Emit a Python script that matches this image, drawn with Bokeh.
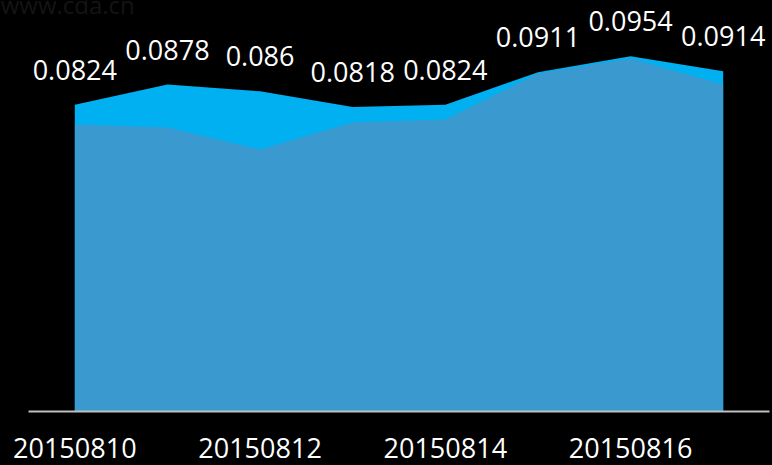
from bokeh.plotting import figure
from bokeh.models import Range1d, Label, InlineStyleSheet
from bokeh.core.properties import value
from bokeh.embed import file_html
from bokeh.resources import INLINE

dates = ["20150810", "20150811", "20150812", "20150813",
         "20150814", "20150815", "20150816", "20150817"]
series_back = [0.0824, 0.0878, 0.086, 0.0818, 0.0824, 0.0911, 0.0954, 0.0914]
series_front = [0.0771, 0.0763, 0.0704, 0.0776, 0.0784, 0.0908, 0.0948, 0.0878]
tick_idx = [0, 2, 4, 6]

FONT = "Open Sans"
xs = list(range(len(dates)))
n = len(dates)

# frame covers the whole figure; axis drawn as glyphs
W, H = 772, 465
left_px, right_px, bottom_px = 28, 3, 54
px_per_x = (W - left_px - right_px) / n
px_per_y = 3723.0
x0 = -0.5 - left_px / px_per_x
x1 = n - 0.5 + right_px / px_per_x
y0 = -bottom_px / px_per_y
y1 = (H - bottom_px) / px_per_y

p = figure(width=W, height=H, output_backend="svg", toolbar_location=None,
           x_range=Range1d(x0, x1), y_range=Range1d(y0, y1),
           min_border_left=0, min_border_right=0, min_border_top=0, min_border_bottom=0)
p.background_fill_color = "black"
p.border_fill_color = "black"
p.outline_line_color = None
p.grid.visible = False
p.axis.visible = False
p.styles = {"background-color": "black"}
p.stylesheets = [InlineStyleSheet(css=":host, canvas, svg { background-color: black; }")]

p.varea(x=xs, y1=[0] * n, y2=series_back, fill_color="#00B0F0", fill_alpha=1)
p.varea(x=xs, y1=[0] * n, y2=series_front, fill_color="#3A99CF", fill_alpha=1)

# x axis line
p.segment(x0=[-0.5], y0=[0], x1=[n - 0.5], y1=[0], line_color="#c0c0c0", line_width=2)

# tick labels
p.text(x=tick_idx, y=[0] * len(tick_idx), text=[dates[i] for i in tick_idx],
       text_color="white", text_font=value(FONT), text_font_size="27px",
       text_align="center", text_baseline="alphabetic", y_offset=36)

# value labels
p.text(x=xs, y=series_back, text=[str(v) for v in series_back],
       text_color="white", text_font=value(FONT), text_font_size="27px",
       text_align="center", text_baseline="alphabetic", y_offset=-35)

wm = Label(x=x0 + 0.002, y=0.1094, text="www.cda.cn", text_color="#141414",
           text_font=FONT, text_font_size="24px", text_baseline="alphabetic")
p.add_layout(wm)

html = file_html(p, INLINE)
html = html.replace("<body>", '<body style="margin:0;background:black">', 1)
open("out.html", "w").write(html)
